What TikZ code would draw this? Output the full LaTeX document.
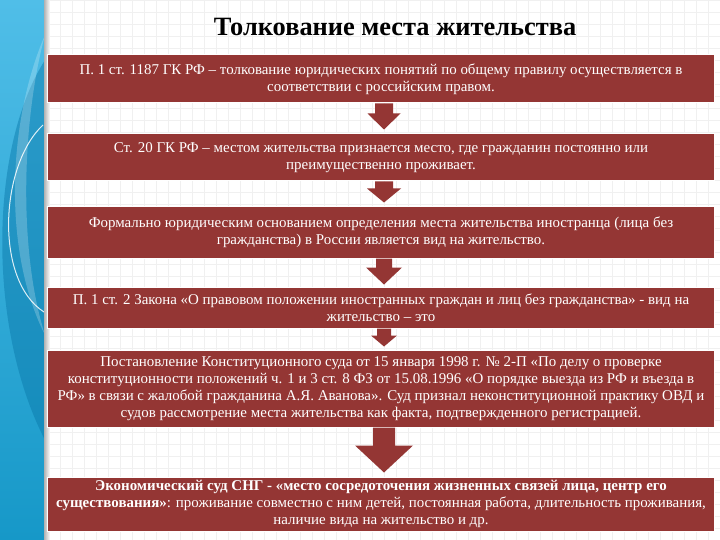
\documentclass[tikz,border=0pt]{standalone}
\usepackage{fontspec}
\setmainfont{Liberation Serif}
\usetikzlibrary{calc}
\definecolor{boxred}{RGB}{148,54,52}
\definecolor{stripA}{RGB}{80,190,232}
\definecolor{stripB}{RGB}{22,152,200}
\definecolor{stripD}{RGB}{8,118,168}
\tikzset{
  rbox/.style={fill=boxred, draw=white, line width=1bp, text=white,
    minimum width=666bp, inner sep=0pt, align=center,
    font=\fontsize{15}{17}\selectfont,
    execute at begin node={\rule{0pt}{17bp}}},
  gridline/.style={draw=black!6, line width=0.4bp}
}
\newcommand\blockarr[6]{%
  \fill[boxred] ($(#1.south)+(3-#3,0)$) -- ($(#1.south)+(3+#3,0)$)
    -- ($(#1.south)+(3+#3,#5)$) -- ($(#1.south)+(3+#4,#5)$)
    -- ($(#2.north)+(3,-#6)$)
    -- ($(#1.south)+(3-#4,#5)$) -- ($(#1.south)+(3-#3,#5)$) -- cycle;}
\begin{document}
\begin{tikzpicture}[x=1bp,y=-1bp]
\useasboundingbox (0,0) rectangle (720,540);
\fill[white] (0,0) rectangle (720,540);
\draw[gridline, step=12bp] (45,0) grid (720,540);
% left strip
\shade[top color=stripA, bottom color=stripB] (0,0) rectangle (45,540);
\fill[stripD, opacity=0.45] (45,60) .. controls (-12,150) and (-12,330) .. (45,440) -- cycle;
\fill[white, opacity=0.22] (45,35) .. controls (8,120) and (2,250) .. (45,335)
   .. controls (18,250) and (22,120) .. (45,35) -- cycle;
\draw[white, line width=1bp, opacity=0.85] (43,125) .. controls (0,165) and (-6,280) .. (44,312);
\shade[left color=black!30, right color=white] (44,0) rectangle (50,540);
% title
\node[font=\fontsize{26.5}{30}\selectfont\bfseries] (title) at (395,27) {Толкование места жительства};
% boxes
\node[rbox, minimum height=48bp] (b1) at (381,79)
 {П. 1 ст. 1187 ГК РФ – толкование юридических понятий по общему правилу осуществляется в\\
  соответствии с российским правом.};
\node[rbox, minimum height=47bp] (b2) at (381,157.5)
 {Ст. 20 ГК РФ – местом жительства признается место, где гражданин постоянно или\\
  преимущественно проживает.};
\node[rbox, minimum height=51bp] (b3) at (381,232.5)
 {Формально юридическим основанием определения места жительства иностранца (лица без\\
  гражданства) в России является вид на жительство.};
\node[rbox, minimum height=41bp] (b4) at (381,307.5)
 {П. 1 ст. 2 Закона «О правовом положении иностранных граждан и лиц без гражданства» - вид на\\
  жительство – это};
\node[rbox, minimum height=77bp] (b5) at (381,388.5)
 {Постановление Конституционного суда от 15 января 1998 г. № 2-П «По делу о проверке\\
  конституционности положений ч. 1 и 3 ст. 8 ФЗ от 15.08.1996 «О порядке выезда из РФ и въезда в\\
  РФ» в связи с жалобой гражданина А.Я. Аванова». Суд признал неконституционной практику ОВД и\\
  судов рассмотрение места жительства как факта, подтвержденного регистрацией.};
\node[rbox, minimum height=54bp] (b6) at (381,504)
 {\textbf{Экономический суд СНГ - «место сосредоточения жизненных связей лица, центр его}\\
  \textbf{существования»}: проживание совместно с ним детей, постоянная работа, длительность проживания,\\
  наличие вида на жительство и др.};
% arrows
\blockarr{b1}{b2}{9}{16.5}{10}{4}
\blockarr{b2}{b3}{9}{17}{7}{4}
\blockarr{b3}{b4}{8}{18}{9}{2}
\blockarr{b4}{b5}{7}{13}{7}{3}
\blockarr{b5}{b6}{11}{29}{18}{4}
\end{tikzpicture}
\end{document}
